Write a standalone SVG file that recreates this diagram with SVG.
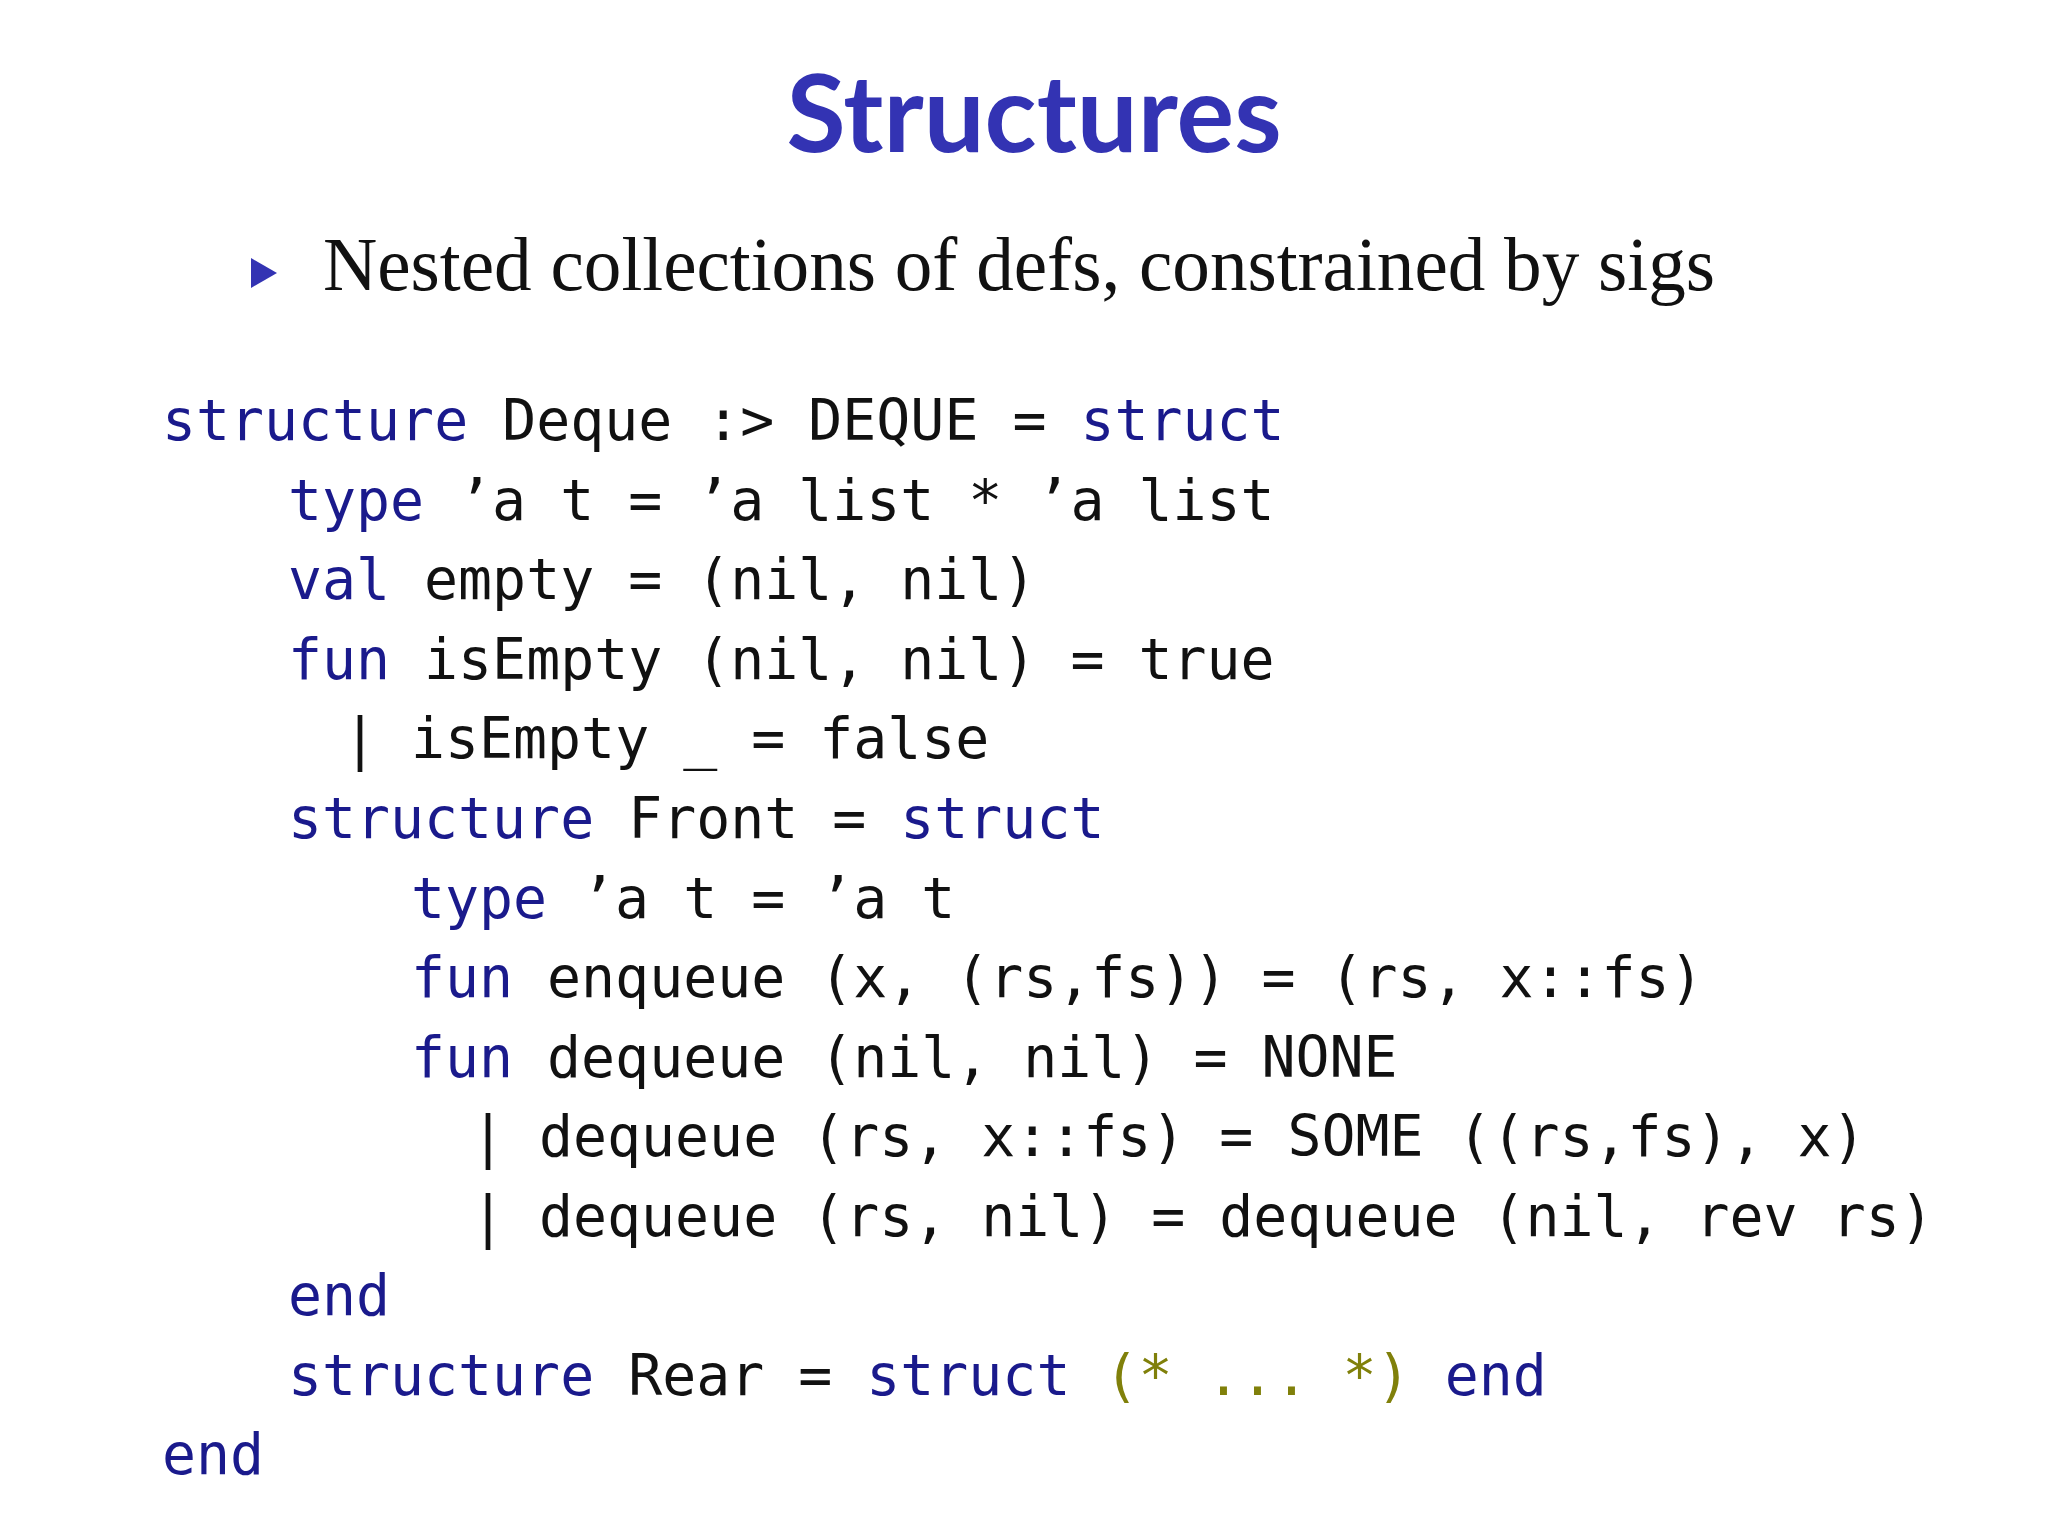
<svg xmlns="http://www.w3.org/2000/svg" width="2048" height="1536" viewBox="0 0 2048 1536">
<style>
.c{font-family:"DejaVu Sans Mono",monospace;font-size:56.5px;fill:#111;white-space:pre}
.k{fill:#1a1a8c}
.cm{fill:#80800a}
</style>
<rect width="2048" height="1536" fill="#fff"/>
<g id="title"><text x="1034" y="152" text-anchor="middle" font-family="Lato, 'Open Sans', sans-serif" font-weight="bold" font-size="108" fill="#3333b3">Structures</text></g>
<g id="bullet">
<polygon points="251,258 277,273 251,288" fill="#3333b3"/>
<text x="323" y="290" font-family="'Liberation Serif', serif" font-size="76" fill="#111" textLength="1392" lengthAdjust="spacingAndGlyphs">Nested collections of defs, constrained by sigs</text>
</g>
<g id="code" class="c" xml:space="preserve">
<text x="162" y="440"><tspan class="k">structure</tspan> Deque :&gt; DEQUE = <tspan class="k">struct</tspan></text>
<text x="288" y="520"><tspan class="k">type</tspan> ’a t = ’a list * ’a list</text>
<text x="288" y="599"><tspan class="k">val</tspan> empty = (nil, nil)</text>
<text x="288" y="679"><tspan class="k">fun</tspan> isEmpty (nil, nil) = true</text>
<text x="343" y="758">| isEmpty _ = false</text>
<text x="288" y="838"><tspan class="k">structure</tspan> Front = <tspan class="k">struct</tspan></text>
<text x="411" y="918"><tspan class="k">type</tspan> ’a t = ’a t</text>
<text x="411" y="997"><tspan class="k">fun</tspan> enqueue (x, (rs,fs)) = (rs, x::fs)</text>
<text x="411" y="1077"><tspan class="k">fun</tspan> dequeue (nil, nil) = NONE</text>
<text x="471" y="1156">| dequeue (rs, x::fs) = SOME ((rs,fs), x)</text>
<text x="471" y="1236">| dequeue (rs, nil) = dequeue (nil, rev rs)</text>
<text x="288" y="1315"><tspan class="k">end</tspan></text>
<text x="288" y="1395"><tspan class="k">structure</tspan> Rear = <tspan class="k">struct</tspan> <tspan class="cm">(* ... *)</tspan> <tspan class="k">end</tspan></text>
<text x="162" y="1474"><tspan class="k">end</tspan></text>
</g>
</svg>
